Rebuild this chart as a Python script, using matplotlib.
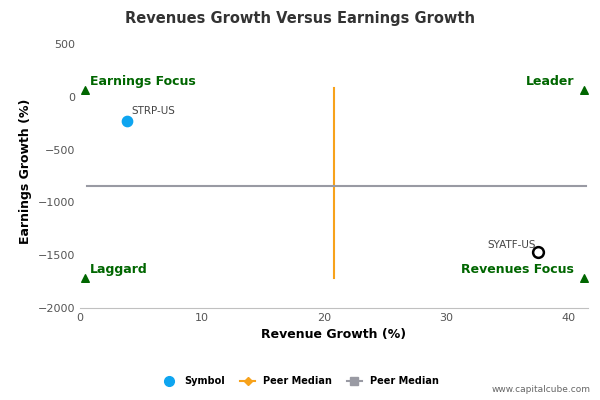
import matplotlib.pyplot as plt
from matplotlib.lines import Line2D

symbol_x = [3.9]
symbol_y = [-230]
symbol_label = ["STRP-US"]
peer_x = [37.5]
peer_y = [-1470]
peer_label = ["SYATF-US"]
median_rev = 20.8
median_rev_span = [-1720, 80]
median_earn = -845
median_earn_span = [0.6, 41.4]
corner_x = [0.4, 41.3, 0.4, 41.3]
corner_y = [65, 65, -1720, -1720]
corner_text = ["Earnings Focus", "Leader", "Laggard", "Revenues Focus"]

fig = plt.figure(figsize=(6, 4), dpi=100)
ax = fig.add_axes([0.133, 0.23, 0.847, 0.6825])
ax.set_xlim(0, 41.6)
ax.set_ylim(-2000, 585)

ax.plot([median_rev, median_rev], median_rev_span, color="#f7a21b", lw=1.5, zorder=2)
ax.plot(median_earn_span, [median_earn, median_earn], color="#999aa3", lw=1.5, zorder=2)
ax.scatter(corner_x, corner_y, marker="^", color="#006600", s=30, zorder=3)
green = "#006600"
for i in range(4):
    left = i % 2 == 0
    ax.text(corner_x[i] + (0.45 if left else -0.85), corner_y[i] + 20, corner_text[i], color=green,
            fontweight="bold", fontsize=9, va="bottom", ha="left" if left else "right")

ax.scatter(symbol_x, symbol_y, color="#0ea5f0", s=55, zorder=4)
ax.text(symbol_x[0] + 0.3, symbol_y[0] + 50, symbol_label[0], fontsize=7.5, color="#444444", va="bottom")
ax.scatter(peer_x, peer_y, facecolor="white", edgecolor="black", linewidth=1.8, s=60, zorder=4)
ax.text(peer_x[0] - 0.2, peer_y[0] + 20, peer_label[0], fontsize=7.5, color="#444444", va="bottom", ha="right")

ax.set_xticks([0, 10, 20, 30, 40])
ax.set_yticks([500, 0, -500, -1000, -1500, -2000])
ax.tick_params(length=0, labelsize=8, colors="#555555")
for s in ["top", "right", "left"]:
    ax.spines[s].set_visible(False)
ax.spines["bottom"].set_color("#c0c0c0")
ax.set_xlabel("Revenue Growth (%)", fontweight="bold", fontsize=9)
ax.set_ylabel("Earnings Growth (%)", fontweight="bold", fontsize=9)
fig.text(0.5, 0.955, "Revenues Growth Versus Earnings Growth", ha="center", va="center", fontsize=10.5, fontweight="bold", color="#333333")

handles = [
    Line2D([], [], marker="o", color="#0ea5f0", ls="none", markersize=7),
    Line2D([], [], marker="D", color="#f7a21b", markersize=4),
    Line2D([], [], marker="s", color="#999aa3", markersize=6),
]
fig.legend(handles, ["Symbol", "Peer Median", "Peer Median"], loc="center", bbox_to_anchor=(0.5, 0.047),
           ncol=3, frameon=False, prop={"size": 7, "weight": "bold"}, handlelength=1.6, columnspacing=1.5)
fig.text(0.985, 0.02, "www.capitalcube.com", ha="right", fontsize=6.5, color="#666666")
fig.savefig("out.png")
